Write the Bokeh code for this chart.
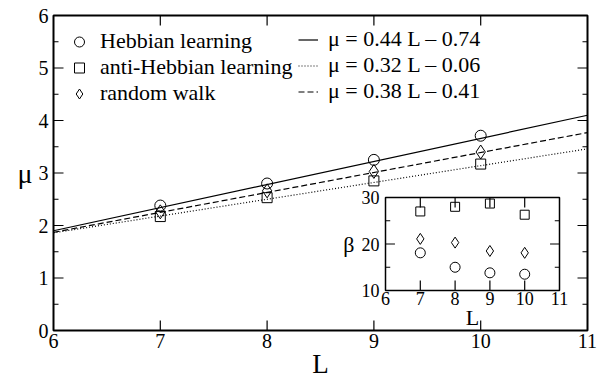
import math
import numpy as np
from bokeh.plotting import figure
from bokeh.models import Range1d, LinearAxis, Legend, LegendItem, SingleIntervalTicker
from bokeh.layouts import column
from bokeh.embed import file_html
from bokeh.resources import INLINE

# ---------------- data ----------------
L = [7, 8, 9, 10]
mu_hebb = [2.38, 2.80, 3.25, 3.71]
mu_anti = [2.17, 2.53, 2.85, 3.17]
mu_rand = [2.26, 2.66, 3.03, 3.40]

fit_labels = ["μ = 0.44 L – 0.74", "μ = 0.32 L – 0.06", "μ = 0.38 L – 0.41"]
fit_slopes = [0.44, 0.32, 0.38]
fit_intercepts = [-0.74, -0.06, -0.41]

beta_hebb = [18.1, 15.0, 13.8, 13.5]
beta_anti = [27.0, 28.0, 28.7, 26.3]
beta_rand = [21.1, 20.3, 18.5, 18.1]

series_labels = ["Hebbian learning", "anti-Hebbian learning", "random walk"]

# axes extents and ticks
main_x = (6, 11)
main_y = (0, 6)
main_xticks = [7, 8, 9, 10]
main_yticks = [1, 2, 3, 4, 5]
main_yminor = [0.5, 1.5, 2.5, 3.5, 4.5, 5.5]

ins_x = (6, 11)
ins_y = (10, 30)
ins_xticks = [7, 8, 9, 10]
ins_yticks = [20]
ins_yminor = [15, 25]

SERIF = "Liberation Serif"

# figure geometry (pixels)
MAIN_W, MAIN_H = 608, 381
MAIN_B = dict(left=53, right=21, top=15, bottom=50)
INS_W, INS_H = 248, 149
INS_B = dict(left=50, right=14, top=12, bottom=44)


def style_axis(ax, font_size):
    ax.axis_line_color = None
    ax.major_tick_in = 0
    ax.major_tick_out = 0
    ax.minor_tick_line_color = None
    ax.major_tick_line_color = None
    ax.major_label_text_font = SERIF
    ax.major_label_text_color = "black"
    ax.major_label_text_font_size = font_size
    ax.axis_label_text_font = SERIF
    ax.axis_label_text_font_style = "normal"
    ax.axis_label_text_color = "black"


def broken(pairs):
    """Join 2-point strokes into one polyline separated by NaN gaps."""
    out = []
    for a, b in pairs:
        out += [a, b, np.nan]
    return out


def add_ticks(fig, xr, yr, fw, fh, xticks, yticks, yminor, major_px, minor_px):
    # inward tick marks as short strokes, lengths converted from pixels
    ux = (xr[1] - xr[0]) / fw
    uy = (yr[1] - yr[0]) / fh
    kw = dict(line_color="black", line_width=1.2)
    for y0, sgn in ((yr[0], 1), (yr[1], -1)):
        xs = broken([(t, t) for t in xticks])
        ys = broken([(y0, y0 + sgn * major_px * uy) for _ in xticks])
        fig.line(xs, ys, **kw)
    for x0, sgn in ((xr[0], 1), (xr[1], -1)):
        xs = broken([(x0, x0 + sgn * major_px * ux) for _ in yticks] +
                    [(x0, x0 + sgn * minor_px * ux) for _ in yminor])
        ys = broken([(t, t) for t in yticks] + [(t, t) for t in yminor])
        fig.line(xs, ys, **kw)


# ---------------- main figure ----------------
p = figure(width=MAIN_W, height=MAIN_H, output_backend="svg", toolbar_location=None,
           x_range=Range1d(*main_x), y_range=Range1d(*main_y),
           x_axis_location=None, y_axis_location=None,
           min_border_left=MAIN_B["left"], min_border_right=MAIN_B["right"],
           min_border_top=MAIN_B["top"], min_border_bottom=MAIN_B["bottom"])
p.xgrid.visible = False
p.ygrid.visible = False
p.outline_line_color = "black"
p.outline_line_width = 2
p.background_fill_color = "white"
p.border_fill_color = "white"

bx = LinearAxis(ticker=SingleIntervalTicker(interval=1, num_minor_ticks=0), axis_label="L")
style_axis(bx, "20px")
bx.major_label_standoff = 3
bx.axis_label_text_font_size = "27px"
bx.axis_label_standoff = -2
p.add_layout(bx, "below")

ly = LinearAxis(ticker=SingleIntervalTicker(interval=1, num_minor_ticks=0), axis_label="μ")
style_axis(ly, "20px")
ly.major_label_standoff = 5
ly.axis_label_text_font_size = "28px"
ly.axis_label_standoff = 3
ly.axis_label_orientation = "horizontal"
p.add_layout(ly, "left")

add_ticks(p, main_x, main_y,
          MAIN_W - MAIN_B["left"] - MAIN_B["right"], MAIN_H - MAIN_B["top"] - MAIN_B["bottom"],
          main_xticks, main_yticks, main_yminor, 10, 5)

dashes = ["solid", "1 2", "6 3"]
line_rs = []
for s, b, d in zip(fit_slopes, fit_intercepts, dashes):
    xs = list(main_x)
    ys = [s * x + b for x in xs]
    r = p.line(xs, ys, line_color="black", line_width=1.2, line_dash=d)
    line_rs.append(r)

r_h = p.scatter(L, mu_hebb, marker="circle", size=11, fill_color=None,
                line_color="black", line_width=1)
r_a = p.scatter(L, mu_anti, marker="square", size=10, fill_color=None,
                line_color="black", line_width=1)
r_r = p.scatter(L, mu_rand, marker="diamond", size=14,
                fill_color=None, line_color="black", line_width=1)


def make_legend(items, loc, gw, standoff):
    return Legend(items=items, location=loc, orientation="vertical",
                  glyph_width=gw, glyph_height=25, label_height=25,
                  label_standoff=standoff, spacing=-3, padding=0, margin=0,
                  label_text_font=SERIF, label_text_font_size="22px",
                  label_text_color="black",
                  background_fill_alpha=0, border_line_color=None)


leg1 = make_legend([LegendItem(label=lab, renderers=[r])
                    for lab, r in zip(series_labels, [r_h, r_a, r_r])],
                   (12, 224), 28, 7)
leg2 = make_legend([LegendItem(label=lab, renderers=[r])
                    for lab, r in zip(fit_labels, line_rs)],
                   (245, 226), 20, 10)
p.add_layout(leg1)
p.add_layout(leg2)

# ---------------- inset ----------------
inset = figure(width=INS_W, height=INS_H, output_backend="svg", toolbar_location=None,
               x_range=Range1d(*ins_x), y_range=Range1d(*ins_y),
               x_axis_location=None, y_axis_location=None,
               min_border_left=INS_B["left"], min_border_right=INS_B["right"],
               min_border_top=INS_B["top"], min_border_bottom=INS_B["bottom"],
               background_fill_color=None, border_fill_color=None)
inset.xgrid.visible = False
inset.ygrid.visible = False
inset.outline_line_color = "black"
inset.outline_line_width = 1.5
inset.margin = (-196, 0, 0, 332)

ibx = LinearAxis(ticker=SingleIntervalTicker(interval=1, num_minor_ticks=0), axis_label="L")
style_axis(ibx, "18px")
ibx.major_label_standoff = 1
ibx.axis_label_text_font_size = "22px"
ibx.axis_label_standoff = -3
inset.add_layout(ibx, "below")

ily = LinearAxis(ticker=SingleIntervalTicker(interval=10, num_minor_ticks=0), axis_label="β")
style_axis(ily, "18px")
ily.major_label_standoff = 6
ily.axis_label_text_font_size = "22px"
ily.axis_label_standoff = 4
ily.axis_label_orientation = "horizontal"
inset.add_layout(ily, "left")

add_ticks(inset, ins_x, ins_y,
          INS_W - INS_B["left"] - INS_B["right"], INS_H - INS_B["top"] - INS_B["bottom"],
          ins_xticks, ins_yticks, ins_yminor, 10, 5)

inset.scatter(L, beta_hebb, marker="circle", size=10, fill_color=None,
              line_color="black", line_width=1)
inset.scatter(L, beta_anti, marker="square", size=9, fill_color=None,
              line_color="black", line_width=1)
inset.scatter(L, beta_rand, marker="diamond", size=11, fill_color=None,
              line_color="black", line_width=1)

layout = column(p, inset, spacing=0)

open("out.html", "w").write(file_html(layout, INLINE))
